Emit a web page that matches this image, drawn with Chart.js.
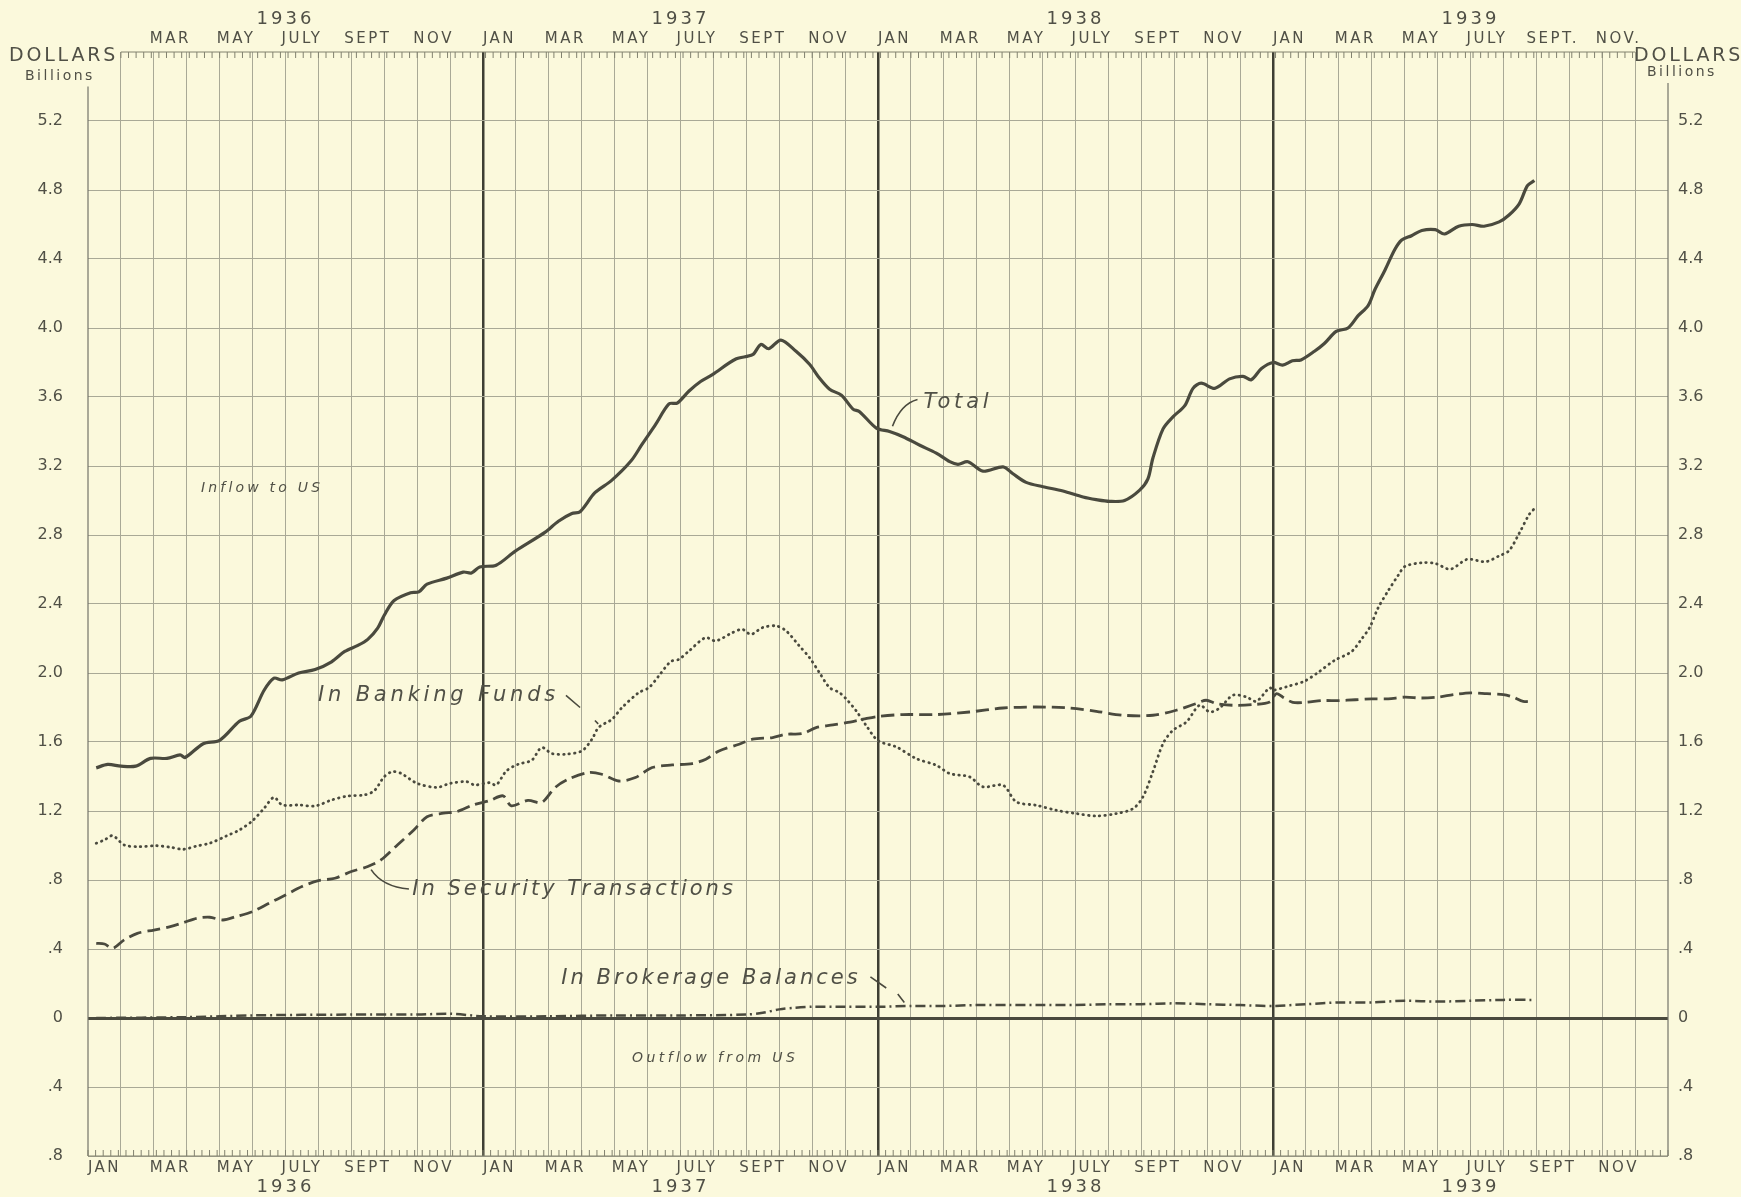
<!DOCTYPE html>
<html>
<head>
<meta charset="utf-8">
<script src="https://cdn.jsdelivr.net/npm/chart.js@4.4.0/dist/chart.umd.min.js"></script>
<style>
  html, body { margin: 0; padding: 0; background: #fbf9dc; }
  canvas { display: block; }
</style>
</head>
<body>
<canvas id="flowChart" width="1741" height="1197"></canvas>
<script>
// x values are months counted from Jan 1 1936, y values billions of dollars
const totalMonths = [0.25,0.6,1.0,1.45,1.9,2.4,2.8,2.95,3.5,4.0,4.6,4.95,5.35,5.65,5.9,6.4,6.9,7.4,7.8,8.2,8.5,8.8,9.0,9.3,9.8,10.05,10.3,10.9,11.4,11.65,11.9,12.4,12.97,13.88,14.29,14.7,14.95,15.4,15.9,16.5,16.83,17.24,17.65,17.9,18.26,18.61,18.97,19.68,20.19,20.44,20.68,21.05,21.51,21.92,22.22,22.53,22.89,23.24,23.44,23.95,24.35,24.76,25.27,25.77,26.18,26.43,26.73,27.19,27.8,28.1,28.5,29.01,29.62,30.23,30.63,31.04,31.49,31.95,32.2,32.35,32.66,32.96,33.32,33.57,33.82,34.23,34.68,35.09,35.34,35.65,36.0,36.29,36.59,36.85,37.26,37.56,37.92,38.28,38.58,38.89,39.09,39.4,39.7,39.91,40.21,40.52,40.93,41.21,41.64,42.05,42.41,42.87,43.17,43.48,43.73,43.94]
const totalValues = [1.45,1.47,1.46,1.46,1.505,1.505,1.525,1.51,1.59,1.61,1.72,1.75,1.9,1.97,1.96,2.0,2.02,2.065,2.125,2.16,2.195,2.26,2.335,2.42,2.465,2.47,2.515,2.55,2.585,2.58,2.615,2.625,2.705,2.815,2.88,2.925,2.935,3.045,3.115,3.23,3.325,3.44,3.56,3.565,3.635,3.69,3.73,3.82,3.845,3.905,3.88,3.93,3.865,3.79,3.71,3.645,3.61,3.53,3.515,3.42,3.4,3.37,3.32,3.275,3.225,3.21,3.225,3.17,3.195,3.155,3.105,3.08,3.055,3.02,3.005,2.995,3.0,3.06,3.125,3.245,3.415,3.485,3.55,3.65,3.68,3.65,3.705,3.72,3.7,3.765,3.8,3.785,3.81,3.815,3.865,3.91,3.98,4.0,4.07,4.13,4.22,4.335,4.455,4.51,4.535,4.565,4.57,4.545,4.59,4.6,4.59,4.615,4.655,4.72,4.825,4.855]

const bankingMonths = [0.25,0.5,0.75,1.1,1.55,2.05,2.5,2.9,3.3,3.7,4.2,4.6,5.0,5.35,5.65,5.9,6.4,6.9,7.4,7.9,8.4,8.7,9.0,9.25,9.5,10.0,10.6,11.0,11.5,11.75,12.2,12.4,12.71,13.07,13.48,13.78,14.09,14.49,15.0,15.31,15.51,15.92,16.22,16.73,17.04,17.34,17.7,17.95,18.26,18.76,19.07,19.58,19.88,20.14,20.49,20.9,21.21,21.61,21.92,22.22,22.53,22.83,23.09,23.34,23.65,24.0,24.56,25.16,25.77,26.18,26.78,27.19,27.8,28.2,28.81,29.42,30.03,30.63,31.24,31.75,32.05,32.35,32.66,32.96,33.37,33.77,34.08,34.38,34.78,35.19,35.49,35.9,36.0,36.44,36.95,37.36,37.87,38.38,38.68,38.94,39.19,39.5,39.81,40.01,40.52,40.93,41.39,41.9,42.46,42.87,43.17,43.48,43.79,43.97]
const bankingValues = [1.013,1.032,1.057,1.003,0.993,0.999,0.99,0.978,0.997,1.013,1.055,1.09,1.144,1.216,1.279,1.235,1.235,1.229,1.264,1.287,1.293,1.318,1.399,1.428,1.419,1.36,1.337,1.36,1.37,1.351,1.364,1.351,1.432,1.471,1.494,1.568,1.533,1.529,1.548,1.616,1.684,1.732,1.799,1.886,1.915,1.983,2.066,2.079,2.128,2.205,2.186,2.234,2.253,2.224,2.263,2.273,2.244,2.157,2.089,2.002,1.915,1.886,1.838,1.78,1.693,1.608,1.571,1.504,1.465,1.417,1.398,1.34,1.349,1.253,1.233,1.204,1.185,1.171,1.185,1.214,1.282,1.427,1.591,1.668,1.716,1.813,1.774,1.797,1.871,1.861,1.836,1.915,1.9,1.922,1.952,2.002,2.073,2.123,2.194,2.265,2.376,2.477,2.568,2.618,2.639,2.635,2.602,2.659,2.645,2.679,2.709,2.81,2.921,2.958]

const securityMonths = [0.25,0.5,0.75,1.1,1.5,2.0,2.5,2.9,3.3,3.7,4.1,4.5,5.0,5.5,6.0,6.5,7.0,7.5,8.0,8.5,8.9,9.4,9.9,10.3,10.8,11.2,11.7,12.2,12.61,12.86,13.37,13.78,14.19,14.59,15.2,15.61,16.12,16.63,17.14,17.75,18.36,18.77,19.17,19.78,20.19,20.8,21.21,21.71,22.12,22.63,23.04,23.55,24.0,24.76,25.77,26.78,27.8,28.81,29.82,30.63,31.44,32.35,33.06,33.67,33.97,34.28,34.78,35.39,35.9,36.1,36.3,36.6,37.0,37.5,38.0,38.5,39.0,39.5,40.0,40.5,41.0,41.5,42.0,42.5,43.0,43.3,43.6,43.9]
const securityValues = [0.433,0.429,0.404,0.453,0.491,0.51,0.53,0.553,0.578,0.584,0.568,0.588,0.617,0.665,0.713,0.762,0.796,0.81,0.849,0.878,0.916,1.003,1.09,1.167,1.187,1.196,1.235,1.26,1.288,1.23,1.262,1.249,1.336,1.384,1.423,1.413,1.374,1.394,1.452,1.467,1.475,1.5,1.548,1.587,1.616,1.626,1.645,1.649,1.683,1.699,1.712,1.732,1.748,1.759,1.759,1.774,1.797,1.803,1.797,1.778,1.755,1.755,1.784,1.823,1.842,1.823,1.813,1.817,1.832,1.88,1.86,1.83,1.83,1.84,1.84,1.845,1.85,1.85,1.86,1.855,1.86,1.875,1.885,1.88,1.875,1.86,1.835,1.84]

const brokerageMonths = [0.25,3,5,8,10,11,12,14,16,18,20,20.5,21,21.5,22,23,24,25,26,27,28,29,30,31,32,33,34,35,36,37,38,39,40,41,42,43,43.9]
const brokerageValues = [0.0,0.005,0.015,0.02,0.02,0.025,0.01,0.01,0.015,0.015,0.02,0.03,0.05,0.06,0.065,0.065,0.065,0.07,0.07,0.075,0.075,0.075,0.075,0.08,0.08,0.085,0.08,0.075,0.07,0.08,0.09,0.09,0.1,0.095,0.1,0.105,0.105]

const yTicks = [-0.8,-0.4,0,0.4,0.8,1.2,1.6,2.0,2.4,2.8,3.2,3.6,4.0,4.4,4.8,5.2,5.6]
const yTickLabels = ['.8','.4','0','.4','.8','1.2','1.6','2.0','2.4','2.8','3.2','3.6','4.0','4.4','4.8','5.2','']
const years = ['1936','1937','1938','1939']
const topMonthLabels = [
    ['', 'MAR', 'MAY', 'JULY', 'SEPT', 'NOV'],
    ['JAN', 'MAR', 'MAY', 'JULY', 'SEPT', 'NOV'],
    ['JAN', 'MAR', 'MAY', 'JULY', 'SEPT', 'NOV'],
    ['JAN', 'MAR', 'MAY', 'JULY', 'SEPT.', 'NOV.']
]
const bottomMonthLabels = ['JAN', 'MAR', 'MAY', 'JULY', 'SEPT', 'NOV']

const paperColor = '#fbf9dc'
const inkColor = '#4a4a3e'
const gridColor = '#a9a996'
const textColor = '#505046'

function pts(xs, ys) {
    return xs.map((x, i) => ({ x: x, y: ys[i] }))
}

function drawText(c, s, x, y, font, align, spacing) {
    c.save()
    c.font = font
    c.fillStyle = textColor
    c.textAlign = align
    c.textBaseline = 'middle'
    c.letterSpacing = spacing || '0px'
    c.fillText(s, x, y)
    c.restore()
}

const paper = {
    id: 'paper',
    beforeDraw(chart) {
        const c = chart.ctx
        c.save()
        c.fillStyle = paperColor
        c.fillRect(0, 0, chart.width, chart.height)
        c.restore()
    },
    afterDraw(chart) {
        const c = chart.ctx
        const xs = chart.scales.x
        const ys = chart.scales.y
        const X = m => xs.getPixelForValue(m)
        const Y = v => ys.getPixelForValue(v)
        const top = Y(5.6)
        const bottom = Y(-0.8)

        c.save()
        c.strokeStyle = '#74746a'
        c.lineWidth = 1.2
        // left and right frame lines
        c.beginPath()
        c.moveTo(X(0), Y(5.4)); c.lineTo(X(0), bottom)
        c.moveTo(X(48), Y(5.42)); c.lineTo(X(48), bottom)
        c.stroke()
        // top tick band
        c.strokeStyle = '#82826f'
        c.lineWidth = 1
        c.beginPath()
        c.moveTo(X(1), top); c.lineTo(X(47), top)
        for (let m = 1; m <= 47.001; m += 12 / 52) {
            c.moveTo(X(m), top); c.lineTo(X(m), top + 6)
        }
        // bottom tick band
        c.moveTo(X(0), bottom); c.lineTo(X(48), bottom)
        for (let m = 0; m <= 48.001; m += 12 / 52) {
            c.moveTo(X(m), bottom); c.lineTo(X(m), bottom - 6)
        }
        c.stroke()
        c.restore()

        // month and year labels
        const monthFont = '15px "DejaVu Sans"'
        const yearFont = '18px "DejaVu Sans"'
        years.forEach((yr, i) => {
            for (let k = 0; k < 6; k++) {
                const m = i * 12 + k * 2 + 0.5
                if (topMonthLabels[i][k]) drawText(c, topMonthLabels[i][k], X(m), 39, monthFont, 'center', '2.5px')
                drawText(c, bottomMonthLabels[k], X(m), 1168, monthFont, 'center', '2.5px')
            }
            drawText(c, yr, X(i * 12 + 6), 19, yearFont, 'center', '3px')
            drawText(c, yr, X(i * 12 + 6), 1187, yearFont, 'center', '3px')
        })

        drawText(c, 'DOLLARS', 9, 56, '19px "DejaVu Sans"', 'left', '2.8px')
        drawText(c, 'Billions', 25, 76, '14px "DejaVu Sans"', 'left', '2.5px')
        drawText(c, 'DOLLARS', 1634, 56, '19px "DejaVu Sans"', 'left', '2.8px')
        drawText(c, 'Billions', 1647, 72, '14px "DejaVu Sans"', 'left', '2.5px')

        // series notes
        const big = 'oblique 21px "DejaVu Sans"'
        const small = 'oblique 14px "DejaVu Sans"'
        drawText(c, 'Inflow to US', X(3.43), Y(3.07), small, 'left', '3.2px')
        drawText(c, 'Outflow from US', X(16.53), Y(-0.232), small, 'left', '3.4px')
        drawText(c, 'Total', X(25.38), Y(3.57), big, 'left', '3.8px')
        drawText(c, 'In Banking Funds', X(6.99), Y(1.87), big, 'left', '3.8px')
        drawText(c, 'In Security Transactions', X(9.85), Y(0.745), big, 'left', '3px')
        drawText(c, 'In Brokerage Balances', X(14.38), Y(0.226), big, 'left', '3px')

        c.save()
        c.strokeStyle = inkColor
        c.lineWidth = 1.6
        c.beginPath()
        c.moveTo(X(25.2), Y(3.585))
        c.quadraticCurveTo(X(24.7), Y(3.56), X(24.44), Y(3.43))
        c.moveTo(X(14.52), Y(1.87)); c.lineTo(X(14.95), Y(1.8))
        c.moveTo(X(15.4), Y(1.725)); c.lineTo(X(15.5), Y(1.705))
        c.moveTo(X(8.6), Y(0.86))
        c.quadraticCurveTo(X(8.95), Y(0.76), X(9.75), Y(0.748))
        c.moveTo(X(23.77), Y(0.238)); c.lineTo(X(24.25), Y(0.174))
        c.moveTo(X(24.6), Y(0.139)); c.lineTo(X(24.8), Y(0.09))
        c.stroke()
        c.restore()
    }
}

const isYear = v => v % 12 === 0
const near = (a, b) => Math.abs(a - b) < 1e-6

const ctx = document.getElementById('flowChart').getContext('2d')
const chart = new Chart(ctx, {
    type: 'line',
    data: {
        datasets: [
            {
                label: 'Total',
                data: pts(totalMonths, totalValues),
                borderColor: inkColor,
                borderWidth: 3.2,
                pointRadius: 0,
                tension: 0.3
            },
            {
                label: 'In Banking Funds',
                data: pts(bankingMonths, bankingValues),
                borderColor: inkColor,
                borderWidth: 2.8,
                borderDash: [0.5, 5],
                borderCapStyle: 'round',
                pointRadius: 0,
                tension: 0.3
            },
            {
                label: 'In Security Transactions',
                data: pts(securityMonths, securityValues),
                borderColor: inkColor,
                borderWidth: 2.8,
                borderDash: [13, 6],
                pointRadius: 0,
                tension: 0.3
            },
            {
                label: 'In Brokerage Balances',
                data: pts(brokerageMonths, brokerageValues),
                borderColor: inkColor,
                borderWidth: 2.5,
                borderDash: [10, 4, 2, 4],
                pointRadius: 0,
                tension: 0.3
            }
        ]
    },
    options: {
        responsive: false,
        animation: false,
        devicePixelRatio: 1,
        layout: { padding: { top: 52, bottom: 41, left: 0, right: 0 } },
        plugins: { legend: { display: false }, tooltip: { enabled: false } },
        scales: {
            x: {
                type: 'linear',
                min: 0,
                max: 48,
                afterBuildTicks: s => { s.ticks = []; for (let m = 0; m <= 48; m++) s.ticks.push({ value: m }) },
                afterFit: s => { s.height = 0 },
                ticks: { display: false, autoSkip: false },
                border: { display: false },
                grid: {
                    drawTicks: false,
                    color: c => (c.tick.value === 0 || c.tick.value === 48) ? 'rgba(0,0,0,0)' : (isYear(c.tick.value) ? '#3e3e33' : gridColor),
                    lineWidth: c => isYear(c.tick.value) ? 2.5 : 1
                }
            },
            y: {
                min: -0.8,
                max: 5.6,
                afterBuildTicks: s => { s.ticks = yTicks.map(v => ({ value: v })) },
                afterFit: s => { s.width = 88 },
                border: { display: false },
                ticks: {
                    padding: 25,
                    color: textColor,
                    font: { family: 'DejaVu Sans', size: 16 },
                    callback: (v, i) => yTickLabels[i]
                },
                grid: {
                    drawTicks: false,
                    color: c => near(c.tick.value, 0) ? inkColor : (near(c.tick.value, 5.6) ? 'rgba(0,0,0,0)' : gridColor),
                    lineWidth: c => near(c.tick.value, 0) ? 3 : 1
                }
            },
            yR: {
                position: 'right',
                min: -0.8,
                max: 5.6,
                afterBuildTicks: s => { s.ticks = yTicks.map(v => ({ value: v })) },
                afterFit: s => { s.width = 73 },
                border: { display: false },
                ticks: {
                    padding: 10,
                    color: textColor,
                    font: { family: 'DejaVu Sans', size: 16 },
                    callback: (v, i) => yTickLabels[i]
                },
                grid: { display: false, drawTicks: false }
            }
        }
    },
    plugins: [paper]
})
</script>
</body>
</html>
